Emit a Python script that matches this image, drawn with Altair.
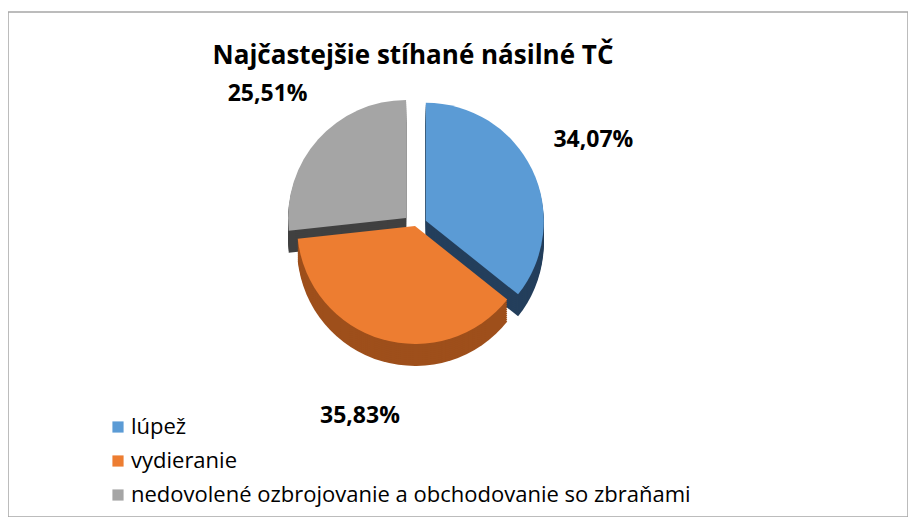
import altair as alt
import pandas as pd

# --- data ---
categories = ["lúpež", "vydieranie", "nedovolené ozbrojovanie a obchodovanie so zbraňami"]
values = [34.07, 35.83, 25.51]
value_labels = ["34,07%", "35,83%", "25,51%"]
order = [0, 1, 2]
explode = [12, 0, 12]  # slice explosion (px), as in the reference

top_colors = ["#5B9BD5", "#ED7D31", "#A5A5A5"]
side_colors = ["#243F5C", "#9E4F1B", "#404040"]

df = pd.DataFrame({"cat": categories, "val": values, "lab": value_labels,
                   "ord": order, "exp": explode})

CX, CY, R = 407, 214, 118
FONT = "Open Sans"

base = alt.Chart(df).transform_window(
    cum="sum(val)", sort=[alt.SortField("ord")], frame=[None, 0]
).transform_joinaggregate(
    total="sum(val)"
).transform_calculate(
    mid="(datum.cum - datum.val / 2) / datum.total * 2 * PI",
).transform_calculate(
    px=f"{CX} + datum.exp * sin(datum.mid)",
    py=f"{CY} - datum.exp * cos(datum.mid)",
)

legend = alt.Legend(title=None, orient="none", legendX=99, legendY=404,
                    labelFont=FONT, labelFontSize=22, labelColor="#000000",
                    symbolType="square", symbolSize=125, symbolStrokeWidth=0,
                    rowPadding=12, labelOffset=2, labelLimit=800)

layers = []
# side (depth) layers for a 3D look
for off in range(22, 0, -2):
    layers.append(
        base.mark_arc(radius=R).encode(
            theta=alt.Theta("val:Q", stack=True),
            order=alt.Order("ord:Q"),
            color=alt.Color("cat:N", scale=alt.Scale(domain=categories, range=side_colors), legend=None),
            x=alt.X("px:Q", scale=None),
            y=alt.Y("pyo:Q", scale=None),
        ).transform_calculate(pyo=f"datum.py + {off}")
    )

top = base.mark_arc(radius=R).encode(
    theta=alt.Theta("val:Q", stack=True),
    order=alt.Order("ord:Q"),
    color=alt.Color("cat:N", scale=alt.Scale(domain=categories, range=top_colors), legend=legend),
    x=alt.X("px:Q", scale=None),
    y=alt.Y("py:Q", scale=None),
)

labels = base.mark_text(font=FONT, fontSize=23, fontWeight="bold", color="#000000").encode(
    theta=alt.Theta("val:Q", stack=True),
    order=alt.Order("ord:Q"),
    text="lab:N",
    radius=alt.value(198),
    x=alt.value(CX),
    y=alt.value(CY),
)

chart = alt.layer(*layers, top, labels).resolve_scale(color="independent").properties(
    width=900,
    height=505,
    padding={"left": 0, "top": 4, "right": 0, "bottom": 0},
    autosize=alt.AutoSizeParams(type="none"),
    title=alt.TitleParams("Najčastejšie stíhané násilné TČ", font=FONT, fontSize=26,
                          fontWeight="bold", color="#000000", anchor="middle", dx=-45, dy=61),
).configure_view(stroke="#A6A6A6", strokeWidth=1.5)

chart.save("out.html", embed_options={"renderer": "svg", "actions": False})
